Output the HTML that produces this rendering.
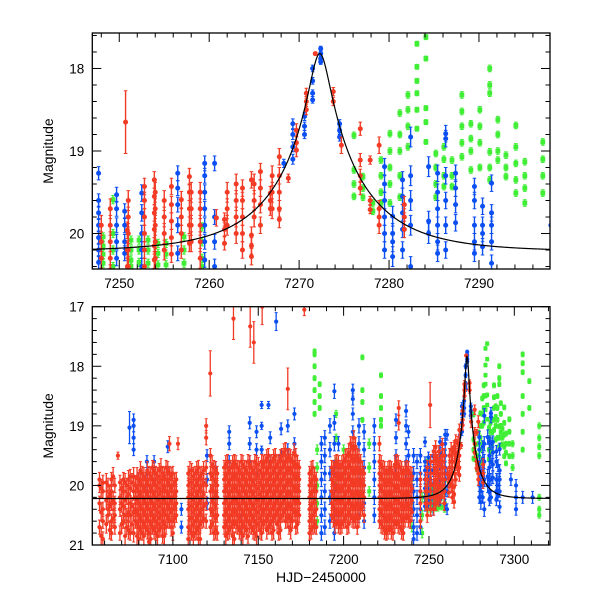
<!DOCTYPE html>
<html><head><meta charset="utf-8"><style>
body{margin:0;background:#fff;}
svg{display:block;font-family:"Liberation Sans",sans-serif;}
</style></head><body>
<svg id="chart" width="600" height="600" viewBox="0 0 600 600" xmlns="http://www.w3.org/2000/svg"></svg>
<script>
// nights: [HJD-2450000, [magnitudes], error]
const redNights = [
[7057,[19.9,20.0,20.3,20.7],0.12],[7059,[19.95,20.1,20.4,20.6,20.9],0.12],[7062,[20.0,20.2,20.4,20.5],0.12],
[7064,[19.9,20.1,20.3,20.6,20.8],0.12],[7066,[20.0,20.3,20.5,20.7],0.12],[7067.8,[19.5],0.06],
[7069,[19.95,20.2,20.4,20.8],0.12],[7071,[19.9,20.1,20.35,20.6],0.12],[7073,[20.0,20.2,20.5,20.7],0.12],
[7075,[19.85,20.05,20.3,20.5,20.8],0.12],[7078,[20.0,20.2,20.4,20.6],0.12],[7080,[19.9,20.1,20.3,20.5,20.7,20.9],0.12],
[7082,[19.8,20.0,20.2,20.4,20.6,20.8],0.12],[7084,[19.9,20.1,20.3,20.5,20.7],0.12],[7086,[19.8,20.0,20.2,20.4,20.6,20.8,20.95],0.12],
[7088,[19.7,19.9,20.1,20.3,20.5,20.7],0.12],[7090,[19.8,20.0,20.2,20.4,20.6,20.8],0.12],[7092,[19.75,19.95,20.15,20.35,20.55,20.75],0.12],
[7094,[19.8,20.0,20.2,20.4,20.6,20.85],0.12],[7096,[19.7,19.9,20.1,20.3,20.5,20.7],0.12],[7098,[19.3,19.8,20.0,20.2,20.4,20.6],0.12],
[7100,[19.8,20.0,20.2,20.4,20.6,20.8],0.12],[7102,[19.9,20.1,20.3,20.5],0.12],[7103,[19.3],0.1],
[7109,[19.8,20.0,20.2,20.4,20.7,20.9],0.12],[7111,[19.75,19.95,20.15,20.35,20.55,20.8],0.12],[7113,[19.8,20.0,20.2,20.4,20.6,20.8],0.12],
[7115,[19.7,19.9,20.1,20.3,20.5,20.7,20.9],0.12],[7117,[19.8,20.0,20.2,20.4,20.6],0.12],[7119.5,[19.0,19.2,19.7,20.0,20.3,20.6],0.12],
[7121.9,[18.12],0.38],[7122,[19.5,19.8,20.1,20.4,20.7],0.12],[7124,[19.7,19.9,20.1,20.3,20.5,20.8],0.12],
[7126,[19.8,20.0,20.2,20.5,20.8],0.12],[7130,[19.7,19.9,20.1,20.3,20.5,20.7],0.12],[7132,[19.6,19.8,20.0,20.2,20.4,20.6,20.8],0.12],
[7134,[19.7,19.9,20.1,20.3,20.5,20.7],0.12],[7135.5,[17.2],0.35],[7136,[19.6,19.8,20.0,20.2,20.4,20.6,20.9],0.12],
[7138,[19.7,19.9,20.1,20.3,20.5,20.7],0.12],[7140,[19.6,19.8,20.0,20.2,20.4,20.6,20.8],0.12],[7142,[19.7,19.9,20.1,20.3,20.5,20.7],0.12],
[7144,[19.6,19.8,20.0,20.2,20.4,20.6,20.85],0.12],[7145.3,[17.33],0.35],[7146,[19.7,19.9,20.1,20.3,20.5,20.7],0.12],
[7147.4,[17.6],0.35],[7148,[19.6,19.8,20.0,20.2,20.4,20.6,20.8],0.12],[7150,[19.65,19.85,20.05,20.25,20.45,20.65],0.12],
[7152,[19.6,19.8,20.0,20.2,20.4,20.6,20.8],0.12],[7152.3,[17.0],0.3],[7154,[19.6,19.8,20.0,20.2,20.4,20.6],0.12],
[7156,[19.5,19.7,19.9,20.1,20.3,20.5,20.7],0.12],[7158,[19.6,19.8,20.0,20.2,20.4,20.6,20.8],0.12],[7160,[19.5,19.7,19.9,20.1,20.3,20.5],0.12],
[7162,[19.6,19.8,20.0,20.2,20.4,20.6,20.8],0.12],[7164,[19.5,19.7,19.9,20.1,20.3,20.5],0.12],[7166,[19.4,19.6,19.8,20.0,20.2,20.4,20.6],0.12],
[7167.3,[18.38],0.35],[7168,[19.5,19.7,19.9,20.1,20.3,20.5,20.7],0.12],[7170,[19.6,19.8,20.0,20.2,20.4,20.6],0.12],
[7172,[19.5,19.7,19.9,20.1,20.3,20.5,20.7],0.12],[7174,[19.7,19.9,20.1,20.3,20.5],0.12],[7177,[17.05],0.1],
[7180,[19.8,20.0,20.2,20.4,20.6,20.8],0.12],[7182,[19.7,19.9,20.1,20.3,20.5,20.7],0.12],[7184,[19.9,20.1,20.4,20.7],0.12],
[7193,[19.7,19.9,20.1,20.3,20.5],0.12],[7196,[19.6,19.8,20.0,20.2,20.4,20.6],0.12],[7198,[19.7,19.9,20.1,20.3,20.5,20.7],0.12],
[7200,[19.6,19.8,20.0,20.2,20.4,20.6],0.12],[7202,[19.5,19.7,19.9,20.1,20.3,20.5,20.7],0.12],[7204,[19.3,19.5,19.7,19.9,20.1,20.3,20.5],0.12],
[7206,[19.2,19.4,19.6,19.8,20.0,20.2,20.4,20.6],0.12],[7208,[19.5,19.7,19.9,20.1,20.3,20.5,20.7],0.12],[7210,[19.6,19.8,20.0,20.2,20.4],0.12],
[7212,[19.8,20.0,20.2,20.5],0.12],[7221,[19.3,19.6,19.8,20.0,20.2,20.4,20.6],0.12],[7223,[19.7,19.9,20.1,20.3,20.5,20.7],0.12],
[7225,[19.8,20.0,20.2,20.4,20.6,20.8],0.12],[7227,[19.7,19.9,20.1,20.3,20.5,20.7],0.12],[7229,[19.8,20.0,20.2,20.4,20.6,20.8],0.12],
[7231,[19.6,19.8,20.0,20.2,20.4,20.6],0.12],[7232.3,[18.7,18.95],0.12],[7233,[19.7,19.9,20.1,20.3,20.5,20.7],0.12],
[7235,[19.8,20.0,20.2,20.4,20.6,20.8],0.12],[7237,[19.7,19.9,20.1,20.3,20.5],0.12],[7239,[19.8,20.0,20.2,20.4,20.6],0.12],
[7245,[19.9,20.1,20.3,20.6],0.12],
[7058,[20.05,20.45,20.85],0.15],[7061,[19.95,20.25,20.65],0.15],[7063,[20.15,20.35,20.75],0.15],[7065,[19.85,20.25,20.55],0.15],
[7070,[20.05,20.3,20.65],0.15],[7072,[19.95,20.25,20.5,20.85],0.15],[7074,[19.9,20.15,20.45,20.75],0.15],[7076,[19.95,20.35,20.65],0.15],
[7077,[19.85,20.1,20.45,20.8],0.15],[7079,[19.85,20.05,20.25,20.45,20.65,20.85],0.15],[7081,[19.75,19.95,20.15,20.35,20.55,20.75],0.15],
[7083,[19.85,20.05,20.25,20.45,20.65,20.85],0.15],[7085,[19.75,19.95,20.15,20.35,20.55,20.75],0.15],[7087,[19.85,20.05,20.25,20.45,20.65,20.9],0.15],
[7089,[19.75,19.95,20.15,20.35,20.55,20.75],0.15],[7091,[19.85,20.05,20.25,20.45,20.65,20.85],0.15],[7093,[19.7,19.9,20.1,20.3,20.5,20.7],0.15],
[7095,[19.85,20.05,20.25,20.45,20.65,20.85],0.15],[7097,[19.75,19.95,20.15,20.35,20.55],0.15],[7099,[19.85,20.05,20.25,20.45,20.7],0.15],
[7101,[19.95,20.15,20.35,20.55],0.15],[7110,[19.75,19.95,20.15,20.35,20.55,20.75],0.15],[7112,[19.85,20.05,20.25,20.45,20.65,20.85],0.15],
[7114,[19.75,19.95,20.15,20.35,20.55,20.75],0.15],[7116,[19.85,20.05,20.25,20.45,20.65,20.9],0.15],[7118,[19.75,19.95,20.15,20.35,20.55],0.15],
[7123,[19.65,19.85,20.05,20.25,20.45,20.65],0.15],[7125,[19.75,19.95,20.15,20.35,20.55,20.75],0.15],[7131,[19.65,19.85,20.05,20.25,20.45,20.65,20.85],0.15],
[7133,[19.75,19.95,20.15,20.35,20.55,20.75],0.15],[7135,[19.65,19.85,20.05,20.25,20.45,20.65,20.85],0.15],[7137,[19.65,19.85,20.05,20.25,20.45,20.65],0.15],
[7139,[19.75,19.95,20.15,20.35,20.55,20.75],0.15],[7141,[19.65,19.85,20.05,20.25,20.45,20.65,20.85],0.15],[7143,[19.75,19.95,20.15,20.35,20.55,20.75],0.15],
[7145,[19.65,19.85,20.05,20.25,20.45,20.65],0.15],[7147,[19.75,19.95,20.15,20.35,20.55,20.75],0.15],[7149,[19.65,19.85,20.05,20.25,20.45,20.65,20.85],0.15],
[7151,[19.75,19.95,20.15,20.35,20.55,20.75],0.15],[7153,[19.65,19.85,20.05,20.25,20.45,20.65],0.15],[7155,[19.55,19.75,19.95,20.15,20.35,20.55,20.75],0.15],
[7157,[19.65,19.85,20.05,20.25,20.45,20.65],0.15],[7159,[19.55,19.75,19.95,20.15,20.35,20.55,20.75],0.15],[7161,[19.65,19.85,20.05,20.25,20.45,20.65],0.15],
[7163,[19.55,19.75,19.95,20.15,20.35,20.55,20.75],0.15],[7165,[19.45,19.65,19.85,20.05,20.25,20.45],0.15],[7167,[19.55,19.75,19.95,20.15,20.35,20.55],0.15],
[7169,[19.55,19.75,19.95,20.15,20.35,20.55,20.75],0.15],[7171,[19.45,19.65,19.85,20.05,20.25,20.45],0.15],[7173,[19.65,19.85,20.05,20.25,20.45,20.65],0.15],
[7181,[19.75,19.95,20.15,20.35,20.55,20.75],0.15],[7183,[19.85,20.05,20.25,20.45,20.65],0.15],[7194,[19.75,19.95,20.15,20.35,20.55],0.15],
[7195,[19.65,19.85,20.05,20.25,20.45,20.65],0.15],[7197,[19.65,19.85,20.05,20.25,20.45,20.65],0.15],[7199,[19.65,19.85,20.05,20.25,20.45,20.65],0.15],
[7201,[19.55,19.75,19.95,20.15,20.35,20.55],0.15],[7203,[19.45,19.65,19.85,20.05,20.25,20.45,20.65],0.15],[7205,[19.35,19.55,19.75,19.95,20.15,20.35,20.55],0.15],
[7207,[19.35,19.55,19.75,19.95,20.15,20.35,20.55],0.15],[7209,[19.55,19.75,19.95,20.15,20.35,20.55],0.15],[7211,[19.75,19.95,20.15,20.35],0.15],
[7222,[19.65,19.85,20.05,20.25,20.45,20.65],0.15],[7224,[19.75,19.95,20.15,20.35,20.55,20.75],0.15],[7226,[19.75,19.95,20.15,20.35,20.55,20.75],0.15],
[7228,[19.75,19.95,20.15,20.35,20.55,20.75],0.15],[7230,[19.65,19.85,20.05,20.25,20.45,20.65],0.15],[7232,[19.65,19.85,20.05,20.25,20.45,20.65],0.15],
[7234,[19.75,19.95,20.15,20.35,20.55,20.75],0.15],[7236,[19.75,19.95,20.15,20.35,20.55],0.15],[7238,[19.75,19.95,20.15,20.35,20.55],0.15],
[7240,[19.85,20.05,20.25,20.45],0.15],
[7248,[19.9,20.1,20.3],0.12],[7249,[19.7,19.9,20.1,20.3,20.5],0.12],[7251,[19.6,19.8,20.0,20.2,20.4],0.12],[7254,[19.5,19.7,19.9,20.1,20.3],0.12],
[7255,[19.6,19.8,20.0,20.2],0.12],[7258,[19.5,19.7,19.9,20.1],0.12],[7259,[19.5,19.7,19.9,20.1,20.3],0.12],[7262,[19.5,19.7,19.9],0.12],
[7263,[19.4,19.6,19.8,20.0],0.12],[7265,[19.4,19.6,19.8],0.12],[7267,[19.3,19.5,19.7],0.12],
[7250.7,[18.65],0.38],[7250.9,[19.96,20.2,20.4],0.1],[7252.8,[19.43,19.6,19.8,20.0,20.2,20.4],0.1],
[7253.9,[19.35,19.55,19.75,19.95,20.15,20.32],0.1],[7255.8,[19.43,19.65,19.85,20.05,20.25],0.1],[7256.9,[19.59,19.8,20.0,20.2],0.1],
[7257.8,[19.31,19.5,19.7,19.9,20.12],0.1],[7260.8,[19.81],0.1],[7261.7,[19.83,19.95,20.12],0.08],
[7263.7,[19.45,19.6,19.8,20.0,20.2],0.1],[7264.7,[19.35,20.02,20.15,20.28],0.1],[7265.7,[19.25,19.45,19.65,19.9],0.1],
[7266.8,[19.51,19.6,19.7],0.08],[7267.8,[19.07,19.3,19.5,19.7,19.83],0.1],[7268.8,[19.33],0.05],
[7269.7,[18.75,18.9,18.99],0.08],[7270.8,[18.3,18.4,18.5],0.06],[7271.8,[17.82],0.02],
[7273.8,[18.28,18.4],0.05],[7274.7,[18.93],0.1],[7276.8,[18.73,19.11,19.3,19.45],0.08],
[7277.9,[19.11,19.6,19.71],0.05],[7278.9,[18.93,19.7,19.8,19.9],0.1],[7281.7,[19.65,19.8,19.95],0.1]
];
const blueNights = [
[7074.6,[19.03],0.27],[7077,[18.9,19.0,19.2,19.4],0.1],[7080,[19.9,20.2],0.1],[7084.8,[19.6,19.8,20.0],0.1],
[7089,[19.6,19.9],0.1],[7097,[19.35,19.8],0.1],[7105,[20.4,20.7],0.1],[7120,[19.5,19.9,20.3],0.1],[7125,[19.7,20.2],0.1],
[7133,[19.1,19.3,19.6,20.0,20.6],0.1],[7140,[20.5,20.8],0.1],[7145,[18.95,19.3,19.6],0.1],[7149,[19.1,19.4,19.8],0.1],
[7152,[18.65,19.0,19.4],0.06],[7156,[18.65],0.06],[7157,[19.2,19.6,20.0],0.1],[7160.5,[17.25],0.15],
[7163.4,[19.05,19.5],0.1],[7167.3,[19.0,19.4],0.1],[7171.2,[18.8,19.3],0.1],
[7187,[19.3,19.6,19.9,20.2,20.5,20.8],0.12],[7189,[19.2,19.5,19.8,20.1,20.4,20.7],0.12],[7192,[19.0,19.4,19.8,20.2,20.6],0.12],
[7194.6,[18.42,18.95,19.3,19.7,20.1,20.5,20.8],0.12],[7197,[19.3,19.7,20.1,20.5],0.12],[7205.4,[18.4,18.55,18.8,19.1],0.1],
[7209,[19.0,19.3,19.6,19.9,20.2,20.5],0.12],[7212,[19.1,19.4,19.7,20.0,20.3,20.6],0.12],[7218,[19.0,19.3,19.6,19.9,20.2,20.5],0.12],
[7230.7,[18.9,19.2,19.5,19.8],0.1],[7236.6,[18.75,19.0,19.3,19.6,19.9,20.2],0.1],[7238,[19.1,19.5,19.9],0.1],
[7241,[19.5,19.8,20.1,20.4,20.7,20.9],0.12],[7243,[19.6,19.9,20.2,20.5,20.8],0.12],[7245,[19.5,19.8,20.1,20.4,20.7],0.12],
[7247.7,[19.27,19.6,19.75,19.9,20.05,20.2,20.35],0.08],[7249.7,[19.53,19.7,19.9,20.1,20.3],0.09],[7250.6,[19.73,19.9,20.1,20.24],0.09],
[7252.5,[19.51,19.75,20.0,20.2,20.4],0.1],[7256.5,[19.27,19.45,19.65,19.9,20.24],0.09],[7259.5,[19.15,19.3,19.5,19.7,19.9,20.1,20.32],0.09],
[7260.6,[19.15,19.8,20.1,20.4],0.09],[7268.3,[19.15],0.05],[7269.3,[18.67,18.8,18.95,19.1],0.06],[7270.6,[18.58,18.7,18.8],0.05],
[7271.5,[18.0,18.15,18.3,18.38],0.04],[7272.4,[17.76,17.82,17.88,17.92],0.03],[7274.5,[18.67,18.75,18.83],0.05],
[7279.5,[19.19,19.4,19.6,19.8,20.0,20.2],0.1],[7280.4,[19.79,20.0,20.1,20.28],0.12],[7281.5,[19.35,19.55,19.75,19.95,20.2],0.1],
[7282.4,[18.83,19.3,19.6,19.9,20.4],0.12],[7284.4,[19.19,19.85,20.0],0.12],[7285.4,[19.27,19.5,19.7,19.9,20.1,20.24],0.1],
[7286.3,[18.79,18.85,19.3,19.6,19.9,20.2],0.1],[7287.4,[19.27,19.45,19.65,19.87],0.1],[7289.5,[19.43,19.6,19.9,20.1,20.24],0.1],
[7290.4,[19.67,19.9,20.0,20.16],0.1],[7291.4,[19.39,19.75,19.9,20.1,20.36],0.1],
[7298,[19.9],0.1],[7301,[20.0,20.2,20.4],0.1],[7304.9,[20.2],0.1],[7310.7,[20.2],0.1]
];
const greenNights = [
[7183,[17.75,17.8,18.0,18.2,18.4,18.6,18.8],0.04],[7184.5,[19.4,19.7,20.0,20.3,20.6],0.08],[7186,[18.3,18.5,18.7],0.04],
[7195.6,[18.8,19.2,19.6,20.0],0.06],[7200,[19.4,19.8,20.2],0.08],[7211,[17.85,18.4,18.6,18.9],0.04],[7215,[19.3,19.7,20.1],0.08],
[7221.9,[18.15,18.5,18.7,18.9,19.0],0.04],[7226,[19.8,20.2,20.6],0.08],[7240,[19.9,20.3,20.7],0.08],[7246,[20.2,20.5,20.8],0.08],
[7248.2,[20.04,20.15,20.25,20.36],0.05],[7249.3,[19.59,20.0,20.2,20.4],0.05],[7251.3,[20.08,20.2,20.32,20.4],0.05],
[7252.2,[20.08,20.2,20.35],0.05],[7253.2,[20.08,20.2,20.36],0.05],[7254.3,[20.12,20.24,20.38],0.05],[7255.2,[20.12,20.25,20.38],0.05],
[7257.2,[20.04,20.2,20.36],0.05],[7259.2,[19.92,20.1,20.3,20.4],0.05],[7276.1,[18.81,19.23,19.4,19.55],0.04],
[7277.1,[19.31,19.45,19.56],0.04],[7278.2,[19.63,19.73],0.04],[7279.1,[19.11,19.3,19.5,19.63],0.04],
[7280.1,[18.79,19.0,19.2,19.4,19.63],0.04],[7281.2,[18.54,18.8,19.0,19.3,19.56],0.04],[7282.1,[18.32,18.5,18.7,18.95],0.04],
[7283.1,[17.70,17.98,18.15,18.3,18.5,18.73],0.03],[7284.1,[17.62,17.88,18.48,18.65,18.89],0.03],[7285.2,[19.03,19.2,19.4,19.56],0.04],
[7286.1,[18.95,19.1,19.3,19.43],0.04],[7287.0,[19.11,19.3,19.43],0.04],[7288.1,[18.32,18.52,18.7,18.9,19.07],0.04],
[7289.1,[18.67,18.85,19.0,19.23],0.04],[7290.1,[18.5,18.7,18.9,19.2],0.04],[7291.2,[18.0,18.2,18.3,19.01,19.2,19.35],0.04],
[7292.1,[18.62,18.8,19.0,19.11],0.04],[7293.0,[19.05,19.2,19.31],0.04],[7294.1,[18.69,18.95,19.15,19.35,19.51],0.04],
[7295.1,[19.13,19.3,19.45,19.63],0.04],[7297.1,[18.89,19.1,19.3,19.51],0.04],
[7299,[19.3,19.5,19.7],0.05],[7304.9,[17.8,17.95,18.1,18.5,18.8,19.1,19.4],0.04],[7308.8,[18.25,18.7],0.04],
[7314.6,[19.0,19.2,19.35,19.5,20.2,20.4,20.5],0.05]
];
const topXTicks = [7250,7260,7270,7280,7290];
const topYTicks = [18,19,20];
const botXTicks = [7100,7150,7200,7250,7300];
const botYTicks = [17,18,19,20,21];
// microlensing model parameters
const model = {t0:7272.3, u0:0.11, tE:9.7, base:20.22};

const NS="http://www.w3.org/2000/svg";
const svg=document.getElementById('chart');
function el(tag,attrs,parent){const e=document.createElementNS(NS,tag);for(const k in attrs)e.setAttribute(k,attrs[k]);(parent||svg).appendChild(e);return e;}

const panels=[
 {name:'top',x0:92.3,x1:550,y0:33,y1:269,tmin:7247.0,tmax:7297.9,mmin:17.57,mmax:20.43,xt:topXTicks,xminor:2,yt:topYTicks,yminor:0.2,r:2.5,sq:2.4,ewidth:1.8,sw:1.4},
 {name:'bottom',x0:92.3,x1:550,y0:306.7,y1:545,tmin:7052.8,tmax:7320.9,mmin:17,mmax:21,xt:botXTicks,xminor:10,yt:botYTicks,yminor:0.2,r:2.1,sq:2.0,ewidth:1.5,sw:1.3}
];
const colors={red:'#f23a24',blue:'#0b4ff2',green:'#3fee35'};

panels.forEach((p,pi)=>{
 const X=t=>p.x0+(t-p.tmin)/(p.tmax-p.tmin)*(p.x1-p.x0);
 const Y=m=>p.y0+(m-p.mmin)/(p.mmax-p.mmin)*(p.y1-p.y0);
 const g=el('g',{});
 
 
 const cp=el('clipPath',{id:'clip'+pi},g);
 el('rect',{x:p.x0,y:p.y0,width:p.x1-p.x0,height:p.y1-p.y0},cp);
 const data=el('g',{'clip-path':'url(#clip'+pi+')'},g);
 
 
 function drawSeries(nights,col,square){
  const sg=el('g',{},data);
  
  
  const c=colors[col];
  nights.forEach(n=>{
   const t=n[0],err=n[2];
   if(t<p.tmin-2||t>p.tmax+2)return;
   n[1].forEach(m=>{
    const x=X(t),y=Y(m),ya=Y(m-err),yb=Y(m+err);
    el('line',{x1:x,x2:x,y1:ya,y2:yb,stroke:c,'stroke-width':p.sw},sg);
    el('line',{x1:x-p.ewidth,x2:x+p.ewidth,y1:ya,y2:ya,stroke:c,'stroke-width':1},sg);
    el('line',{x1:x-p.ewidth,x2:x+p.ewidth,y1:yb,y2:yb,stroke:c,'stroke-width':1},sg);
    let mk;
    if(square) mk=el('rect',{x:x-p.sq,y:y-p.sq,width:2*p.sq,height:2*p.sq,fill:c},sg);
    else mk=el('circle',{cx:x,cy:y,r:p.r,fill:c},sg);
    
    
   });
  });
 }
 drawSeries(greenNights,'green',true);
 drawSeries(blueNights,'blue',false);
 drawSeries(redNights,'red',false);
 let d='';
 for(let i=0;i<=600;i++){
  const t=p.tmin+(p.tmax-p.tmin)*i/600;
  const tau=(t-model.t0)/model.tE;
  const u=Math.sqrt(model.u0*model.u0+tau*tau);
  const A=(u*u+2)/(u*Math.sqrt(u*u+4));
  const m=model.base-2.5*Math.log10(A);
  d+=(i?'L':'M')+X(t).toFixed(2)+','+Y(m).toFixed(2);
 }
 const cv=el('path',{d:d,fill:'none',stroke:'#000','stroke-width':1.2},data);
 
 
 const fr=el('rect',{x:p.x0,y:p.y0,width:p.x1-p.x0,height:p.y1-p.y0,fill:'none',stroke:'#000','stroke-width':1.3},g);
 
 
 const ax=el('g',{stroke:'#000','stroke-width':1},g);
 
 
 for(let t=Math.ceil(p.tmin/p.xminor)*p.xminor;t<=p.tmax;t+=p.xminor){
  const x=X(t);const major=p.xt.includes(t);const L=major?9:4.5;
  el('line',{x1:x,x2:x,y1:p.y1,y2:p.y1-L},ax);
  el('line',{x1:x,x2:x,y1:p.y0,y2:p.y0+L},ax);
 }
 for(let k=Math.ceil(p.mmin/p.yminor-1e-6);k*p.yminor<=p.mmax+1e-6;k++){
  const m=k*p.yminor;const y=Y(m);const major=Math.abs(m-Math.round(m))<1e-6;const L=major?9:4.5;
  el('line',{x1:p.x0,x2:p.x0+L,y1:y,y2:y},ax);
  el('line',{x1:p.x1,x2:p.x1-L,y1:y,y2:y},ax);
 }
 p.xt.forEach(t=>{
  const tx=el('text',{x:X(t),y:p.y1+19,'text-anchor':'middle','font-size':13.5,fill:'#000'},g);
  tx.textContent=t;
  
  
 });
 p.yt.forEach(m=>{
  const tx=el('text',{x:p.x0-8,y:Y(m)+5,'text-anchor':'end','font-size':13.5,fill:'#000'},g);
  tx.textContent=m;
  
  
 });
 const yl=el('text',{x:0,y:0,transform:'translate(53,'+((p.y0+p.y1)/2)+') rotate(-90)','text-anchor':'middle','font-size':14,fill:'#000'},g);
 yl.textContent='Magnitude';
 
 
});
const xl=el('text',{x:321,y:582,'text-anchor':'middle','font-size':14,fill:'#000'});
xl.textContent='HJD\u22122450000';


</script>
</body></html>
